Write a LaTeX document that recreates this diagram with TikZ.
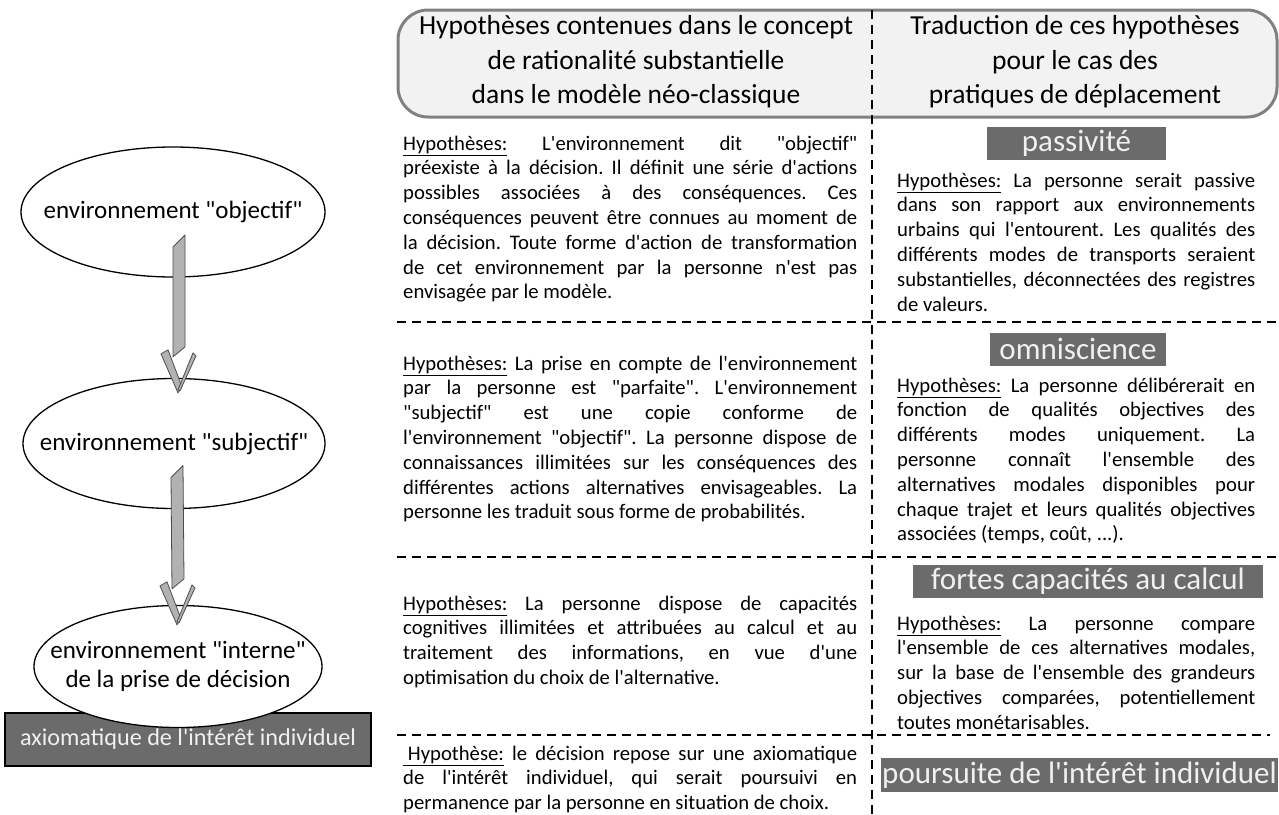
\documentclass[tikz,border=0pt]{standalone}
\usepackage{fontspec}
\setmainfont{Carlito}[Ligatures=TeXOff]
\usetikzlibrary{shapes.geometric, calc}
\definecolor{bandeau}{HTML}{6B6B6B}
\definecolor{fondtete}{HTML}{F2F2F2}
\tolerance=10000
\hyphenpenalty=10000
\frenchspacing

% fleche en ruban : #1 = haut du fut, #2 = pointe
\newcommand{\Ruban}[2]{%
\filldraw[FlecheStyle] ($(#1)+(-12,12)$) -- (#1) -- ($(#2)+(7,-46)$) -- ($(#2)+(-5,-36)$) -- cycle;
\filldraw[FlecheStyle] ($(#2)+(-17,-39)$) -- ($(#2)+(-10,-43)$) -- ($(#2)+(4,-6)$) -- (#2) -- cycle;
\filldraw[FlecheStyle] ($(#2)+(15,-40)$) -- ($(#2)+(18,-37)$) -- ($(#2)+(2,-2)$) -- ($(#2)+(0,-3)$) -- cycle;
}

\begin{document}
\begin{tikzpicture}[x = 1pt, y = -1pt]
\tikzstyle{EllipseStyle}=[
ellipse,
draw,
line width = 1.3pt,
fill = white,
inner sep = 0pt]
\tikzstyle{EtiquetteStyle}=[align = center, font = \fontsize{25}{29}\selectfont]
\tikzstyle{TexteStyle}=[anchor = north west, inner sep = 0pt, align = justify, font = \fontsize{20.7}{24.8}\selectfont]
\tikzstyle{TitreStyle}=[align = center, inner sep = 0pt, font = \fontsize{27.5}{34.5}\selectfont]
\tikzstyle{BandeauStyle}=[fill = bandeau, text = white!94!black, inner sep = 1pt, minimum height = 33pt, font = \fontsize{31}{35}\selectfont]
\tikzstyle{SepStyle}=[line width = 1.8pt, dash pattern = on 9pt off 6pt]
\tikzstyle{FlecheStyle}=[fill = black!30, draw = black!70, line width = 0.8pt, line join = round]
\useasboundingbox (0, 0) rectangle (1279, 814);

% colonne de gauche
\node[draw = black, line width = 2pt, fill = bandeau, text = white!94!black, minimum width = 366pt, minimum height = 53pt, inner sep = 0pt, font = \fontsize{24.2}{28}\selectfont] (axiome) at (188, 739.5) {axiomatique de l'intérêt individuel};
\node[EllipseStyle, minimum width = 304pt, minimum height = 130pt] (objectif) at (173, 212) {};
\node[EllipseStyle, minimum width = 302pt, minimum height = 130pt] (subjectif) at (174, 443.5) {};
\node[EllipseStyle, minimum width = 288pt, minimum height = 122pt] (interne) at (178, 666.5) {};
\node[EtiquetteStyle] (objectifT) at (objectif) {environnement "objectif"};
\node[EtiquetteStyle] (subjectifT) at (subjectif) {environnement "subjectif"};
\node[EtiquetteStyle] (interneT) at (interne) {environnement "interne"\\de la prise de décision};
\coordinate (r1a) at ($(objectif.center)+(12,23)$);
\coordinate (r1b) at ($(subjectif.north)+(4,15)$);
\coordinate (r2a) at ($(subjectif.center)+(9,22)$);
\coordinate (r2b) at ($(interne.north)+(-1,20)$);
\Ruban{r1a}{r1b}
\Ruban{r2a}{r2b}

% tableau
\node[draw = black!50, line width = 3pt, fill = fondtete, rounded corners = 30pt, minimum width = 879pt, minimum height = 107pt] (tete) at (837.5, 63.5) {};
\node[TitreStyle] (titreG) at (636, 62) {Hypothèses contenues dans le concept\\de rationalité substantielle\\dans le modèle néo-classique};
\node[TitreStyle] (titreD) at (1075, 62) {Traduction de ces hypothèses\\pour le cas des\\pratiques de déplacement};

\coordinate (vh) at (872, 10);
\coordinate (vb) at (872, 814);
\coordinate (s1g) at (397, 322);
\coordinate (s1d) at (1279, 322);
\coordinate (s2g) at (397, 557);
\coordinate (s2d) at (1279, 557);
\coordinate (s3g) at (397, 735);
\coordinate (s3d) at (1270, 735);
\draw[SepStyle] (vh) -- (vb);
\draw[SepStyle] (s1g) -- (s1d);
\draw[SepStyle] (s2g) -- (s2d);
\draw[SepStyle] (s3g) -- (s3d);

\node[TexteStyle, text width = 454pt] (hypo1) at (403, 135.5) {\underline{Hypothèses:} L'environnement dit "objectif"\linebreak préexiste à la décision. Il définit une série d'actions\linebreak possibles associées à des conséquences. Ces\linebreak conséquences peuvent être connues au moment de\linebreak la décision. Toute forme d'action de transformation\linebreak de cet environnement par la personne n'est pas\linebreak envisagée par le modèle.};
\node[TexteStyle, text width = 454pt] (hypo2) at (403, 355.5) {\underline{Hypothèses:} La prise en compte de l'environnement\linebreak par la personne est "parfaite". L'environnement\linebreak "subjectif" est une copie conforme de\linebreak l'environnement "objectif". La personne dispose de\linebreak connaissances illimitées sur les conséquences des\linebreak différentes actions alternatives envisageables. La\linebreak personne les traduit sous forme de probabilités.};
\node[TexteStyle, text width = 454pt] (hypo3) at (403, 595.5) {\underline{Hypothèses:} La personne dispose de capacités\linebreak cognitives illimitées et attribuées au calcul et au\linebreak traitement des informations, en vue d'une\linebreak optimisation du choix de l'alternative.};
\node[TexteStyle, text width = 454pt] (hypo4) at (403, 745.5) {\underline{\ Hypothèse:} le décision repose sur une axiomatique\linebreak de l'intérêt individuel, qui serait poursuivi en\linebreak permanence par la personne en situation de choix.};

\node[BandeauStyle, minimum width = 179pt] (passivite) at (1076.5, 143.5) {passivité};
\node[BandeauStyle, minimum width = 176pt] (omniscience) at (1078, 349) {omniscience};
\node[BandeauStyle, minimum width = 350pt] (calcul) at (1088, 581) {fortes capacités au calcul};
\node[BandeauStyle, minimum width = 395pt, minimum height = 34pt] (poursuite) at (1079.5, 775) {poursuite de l'intérêt individuel};

\node[TexteStyle, text width = 358pt] (trad1) at (897, 172.5) {\underline{Hypothèses:} La personne serait passive\linebreak dans son rapport aux environnements\linebreak urbains qui l'entourent. Les qualités des\linebreak différents modes de transports seraient\linebreak substantielles, déconnectées des registres\linebreak de valeurs.};
\node[TexteStyle, text width = 358pt] (trad2) at (897, 377.5) {\underline{Hypothèses:} La personne délibérerait en\linebreak fonction de qualités objectives des\linebreak différents modes uniquement. La\linebreak personne connaît l'ensemble des\linebreak alternatives modales disponibles pour\linebreak chaque trajet et leurs qualités objectives\linebreak associées (temps, coût, ...).};
\node[TexteStyle, text width = 358pt] (trad3) at (897, 615.5) {\underline{Hypothèses:} La personne compare\linebreak l'ensemble de ces alternatives modales,\linebreak sur la base de l'ensemble des grandeurs\linebreak objectives comparées, potentiellement\linebreak toutes monétarisables.};
\end{tikzpicture}
\end{document}
